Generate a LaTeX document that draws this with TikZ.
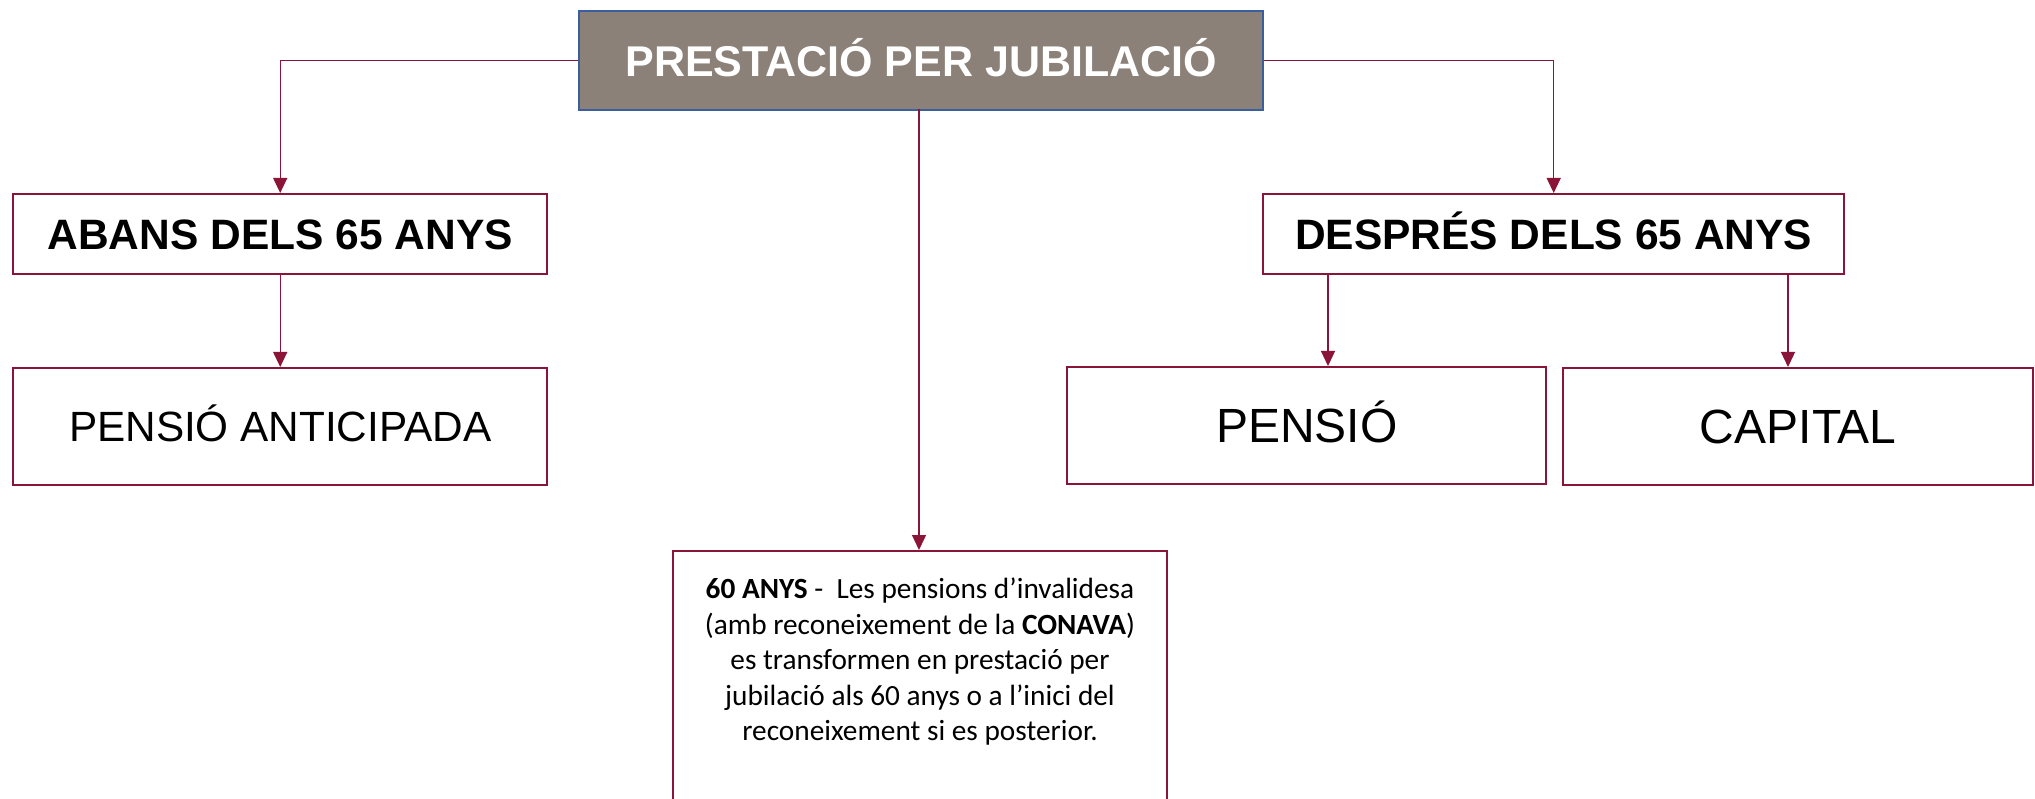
\documentclass[tikz,border=0pt]{standalone}
\usepackage{fontspec}
\setmainfont{Liberation Sans}
\newfontfamily\calib{Carlito}
\usetikzlibrary{arrows.meta}
\definecolor{bord}{HTML}{8A1538}
\definecolor{topfill}{HTML}{8B8178}
\definecolor{topbord}{HTML}{3A5E9E}
\begin{document}
\begin{tikzpicture}[x=1pt,y=-1pt,
  redbox/.style={draw=bord, line width=2.4pt, fill=white, rectangle, inner sep=0pt, anchor=north west},
  topbox/.style={draw=topbord, line width=2.4pt, fill=topfill, rectangle, inner sep=0pt, anchor=north west,
     text=white, font=\fontsize{43}{50}\bfseries\selectfont, text height=30.8pt, text depth=0pt},
  boldlab/.style={font=\fontsize{42.5}{50}\bfseries\selectfont, text height=30.4pt, text depth=0pt},
  biglab/.style={font=\fontsize{48}{56}\selectfont, text height=34.4pt, text depth=0pt},
  conn/.style={draw=bord, line width=1.3pt, -{Triangle[length=15pt,width=14pt]}}]
\useasboundingbox (0,0) rectangle (2035,799);
\fill[white] (0,0) rectangle (2035,799);

\node[topbox, minimum width=684, minimum height=99] (top) at (578,10) {PRESTACIÓ PER JUBILACIÓ};

\node[redbox, boldlab, minimum width=534, minimum height=80] (abans) at (12,193) {ABANS DELS 65 ANYS};
\node[redbox, font=\fontsize{42.3}{50}\selectfont, text height=30.3pt, text depth=0pt, minimum width=534, minimum height=117] (antic) at (12,367) {PENSIÓ ANTICIPADA};

\node[redbox, boldlab, minimum width=581, minimum height=80] (despres) at (1262,193) {DESPRÉS DELS 65 ANYS};
\node[redbox, biglab, minimum width=479, minimum height=117] (pensio) at (1066,366) {PENSIÓ};
\node[redbox, biglab, minimum width=470, minimum height=117] (capital) at (1562,367) {CAPITAL};

\node[redbox, minimum width=494, minimum height=270] (bottom) at (672,550) {};
\node[font=\calib\fontsize{29.3}{35.5}\selectfont, align=center, inner sep=0pt] (btext) at (920,662)
  {\textbf{60 ANYS} -\ \ Les pensions d’invalidesa\\
   (amb reconeixement de la \textbf{CONAVA})\\
   es transformen en prestació per\\
   jubilació als 60 anys o a l’inici del\\
   reconeixement si es posterior.};

\coordinate (topb) at (919,109);
\draw[conn] (top.west) -| (abans.north);
\draw[conn] (top.east) -| (despres.north);
\draw[conn] (topb) -- (bottom.north -| topb);
\draw[conn] (abans.south) -- (antic.north);
\draw[conn] (despres.south -| 1328,0) -- (pensio.north -| 1328,0);
\draw[conn] (despres.south -| 1788,0) -- (capital.north -| 1788,0);
\end{tikzpicture}
\end{document}
